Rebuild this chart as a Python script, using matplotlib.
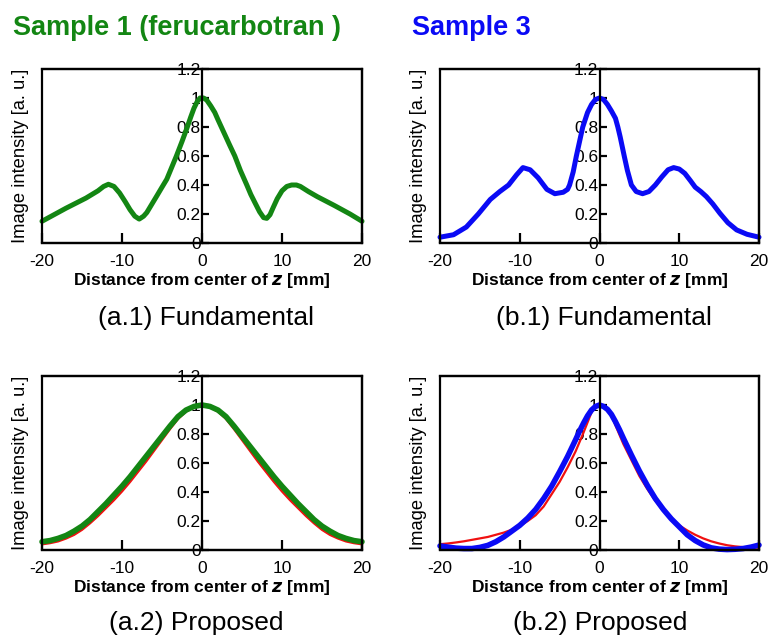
import matplotlib
matplotlib.use('Agg')
import matplotlib.pyplot as plt
from matplotlib.patches import Rectangle

plt.rcParams['font.family'] = ['Liberation Sans', 'DejaVu Sans']
plt.rcParams['mathtext.fontset'] = 'custom'
plt.rcParams['mathtext.bf'] = 'Liberation Sans:bold:italic'

# ---------------- data ----------------
# (a.1) Sample 1, fundamental
a1_z = [-20, -17, -14.5, -13, -12.3, -11.7, -11, -10.3, -9.6, -9, -8.4, -7.85,
        -7.3, -6.9, -6.3, -5.7, -5, -4.4, -3.8, -3.2, -2.5, -1.9, -1.4, -1,
        -0.6, -0.25, 0.2, 0.6, 1.1, 1.6, 2.0, 2.5, 3.0, 3.5, 4.1, 4.8, 5.6,
        6.1, 6.6, 7.2, 7.7, 8.1, 8.5, 8.9, 9.4, 10.0, 10.6, 11.2, 11.8, 12.3,
        13.3, 14.4, 16.5, 18.5, 20]
a1_fundamental = [0.15, 0.24, 0.31, 0.36, 0.39, 0.405, 0.39, 0.345, 0.285, 0.23,
                  0.185, 0.165, 0.185, 0.21, 0.265, 0.32, 0.385, 0.44, 0.52,
                  0.60, 0.70, 0.79, 0.87, 0.93, 0.975, 1.0, 1.0, 0.985, 0.945,
                  0.90, 0.85, 0.79, 0.73, 0.67, 0.60, 0.50, 0.40, 0.335, 0.28,
                  0.215, 0.175, 0.17, 0.195, 0.245, 0.305, 0.36, 0.39, 0.40,
                  0.40, 0.39, 0.355, 0.32, 0.26, 0.20, 0.15]

# (b.1) Sample 3, fundamental
b1_z = [-20, -18.3, -16.7, -15.2, -13.7, -12.5, -11.4, -10.4, -9.6, -8.7, -7.7,
        -6.6, -5.6, -4.55, -4, -3.75, -3.3, -2.9, -2.5, -2.1, -1.5, -1, -0.5,
        0, 0.5, 1, 1.5, 2.0, 2.3, 2.6, 3.1, 3.5, 4.0, 4.6, 5.4, 6.2, 7.0, 7.8,
        8.6, 9.3, 10.0, 10.7, 11.4, 12.0, 12.7, 13.4, 14.2, 15.1, 16.1, 17.2,
        18.5, 20]
b1_fundamental = [0.04, 0.057, 0.11, 0.20, 0.30, 0.355, 0.40, 0.47, 0.52, 0.505,
                  0.45, 0.37, 0.34, 0.35, 0.37, 0.40, 0.49, 0.60, 0.70, 0.80,
                  0.90, 0.955, 0.99, 1.0, 0.99, 0.955, 0.91, 0.86, 0.80, 0.73,
                  0.60, 0.50, 0.40, 0.355, 0.34, 0.355, 0.40, 0.455, 0.505,
                  0.52, 0.51, 0.48, 0.43, 0.385, 0.355, 0.32, 0.27, 0.205,
                  0.14, 0.09, 0.06, 0.04]

# (a.2) Sample 1, proposed (green) and reference (red)
a2_z = list(range(-20, 21))
a2_proposed = [0.057, 0.065, 0.08, 0.10, 0.13, 0.165, 0.21, 0.265, 0.32, 0.38,
               0.44, 0.505, 0.575, 0.645, 0.715, 0.785, 0.855, 0.92, 0.965, 0.99,
               1.0,
               0.99, 0.965, 0.92, 0.855, 0.785, 0.715, 0.645, 0.575, 0.505, 0.44,
               0.38, 0.32, 0.265, 0.21, 0.165, 0.13, 0.10, 0.08, 0.065, 0.057]
a2_reference = [0.04, 0.048, 0.06, 0.08, 0.105, 0.14, 0.185, 0.235, 0.29, 0.345,
                0.405, 0.47, 0.54, 0.61, 0.685, 0.76, 0.835, 0.905, 0.955, 0.985,
                1.0,
                0.985, 0.955, 0.905, 0.835, 0.76, 0.685, 0.61, 0.54, 0.47, 0.405,
                0.345, 0.29, 0.235, 0.185, 0.14, 0.105, 0.08, 0.06, 0.048, 0.04]

# (b.2) Sample 3, proposed (blue) and reference (red)
b2_z = [-20, -19, -18, -17, -16, -15, -14, -13, -12, -11, -10, -9, -8, -7, -6,
        -5, -4, -3, -2.5, -2, -1.5, -1, -0.5, 0, 0.5, 1, 1.5, 2, 2.5, 3, 4, 5,
        6, 7, 8, 9, 10, 11, 12, 13, 14, 15, 16, 17, 18, 19, 20]
b2_proposed = [0.028, 0.02, 0.013, 0.01, 0.01, 0.018, 0.032, 0.057, 0.09, 0.13,
               0.17, 0.22, 0.28, 0.355, 0.44, 0.54, 0.645, 0.76, 0.82, 0.875,
               0.925, 0.965, 0.99, 1.0, 0.99, 0.97, 0.935, 0.885, 0.83, 0.77,
               0.655, 0.545, 0.445, 0.355, 0.28, 0.215, 0.16, 0.105, 0.065,
               0.035, 0.015, 0.006, 0.003, 0.005, 0.01, 0.02, 0.034]
b2_reference = [0.04, 0.045, 0.052, 0.06, 0.07, 0.08, 0.09, 0.105, 0.12, 0.14,
                0.165, 0.20, 0.24, 0.30, 0.385, 0.47, 0.57, 0.68, 0.745, 0.81,
                0.88, 0.95, 0.985, 1.0, 0.995, 0.975, 0.93, 0.86, 0.795, 0.73,
                0.62, 0.51, 0.42, 0.34, 0.27, 0.215, 0.17, 0.135, 0.105, 0.08,
                0.06, 0.045, 0.033, 0.025, 0.02, 0.018, 0.016]

x_ticks = [-20, -10, 0, 10, 20]
x_tick_labels = ['-20', '-10', '0', '10', '20']
y_ticks = [0, 0.2, 0.4, 0.6, 0.8, 1.0, 1.2]
y_tick_labels = ['0', '0.2', '0.4', '0.6', '0.8', '1', '1.2']

sample_titles = ['Sample 1 (ferucarbotran )', 'Sample 3']
captions = ['(a.1) Fundamental', '(b.1) Fundamental', '(a.2) Proposed', '(b.2) Proposed']

GREEN = '#138613'
BLUE = '#0a0af5'
RED = '#f01010'

# ---------------- figure ----------------
W, H = 771, 639
fig = plt.figure(figsize=(W / 100, H / 100), dpi=100)


def px_axes(left, top, right, bottom):
    return fig.add_axes([left / W, 1 - bottom / H, (right - left) / W, (bottom - top) / H])


def style(ax):
    ax.set_xlim(-20, 20)
    ax.set_ylim(0, 1.2)
    for s in ['top', 'right', 'bottom']:
        ax.spines[s].set_linewidth(1.6)
    ax.spines['left'].set_position(('data', 0))
    ax.spines['left'].set_linewidth(1.6)
    ax.add_patch(Rectangle((0, 0), 1, 1, transform=ax.transAxes, fill=False,
                           lw=1.6, ec='black', clip_on=False, zorder=5))
    ax.set_xticks(x_ticks)
    ax.set_xticklabels(x_tick_labels)
    ax.set_yticks(y_ticks)
    ax.set_yticklabels(y_tick_labels)
    ax.tick_params(axis='x', direction='in', length=7, width=1.6, labelsize=12.5, pad=8)
    ax.tick_params(axis='y', direction='in', length=5, width=1.6, labelsize=12.5, pad=1)
    ax.set_xlabel(r'Distance from center of $\boldsymbol{z}$ [mm]', fontsize=12.5,
                  fontweight='bold')
    ax.xaxis.label.set_va('baseline')
    ax.xaxis.set_label_coords(0.5, -42 / 174)
    ax.set_ylabel('Image intensity [a. u.]', fontsize=13.2)
    ax.yaxis.set_label_coords(-0.04, 0.5)


ax_a1 = px_axes(42, 69, 362, 243)
ax_b1 = px_axes(440, 69, 759, 243)
ax_a2 = px_axes(42, 376, 362, 550)
ax_b2 = px_axes(440, 376, 759, 550)

for ax in [ax_a1, ax_b1, ax_a2, ax_b2]:
    style(ax)

kw = dict(solid_capstyle='round', solid_joinstyle='round', clip_on=False)
ax_a1.plot(a1_z, a1_fundamental, color=GREEN, lw=3.6, **kw)
ax_b1.plot(b1_z, b1_fundamental, color=BLUE, lw=3.6, **kw)
ax_a2.plot(a2_z, a2_reference, color=RED, lw=1.8, **kw)
ax_a2.plot(a2_z, a2_proposed, color=GREEN, lw=4.0, **kw)
ax_b2.plot(b2_z, b2_reference, color=RED, lw=1.6, **kw)
ax_b2.plot(b2_z, b2_proposed, color=BLUE, lw=4.0, **kw)

fig.text(13 / W, 1 - 35 / H, sample_titles[0], color=GREEN, fontsize=19.5,
         fontweight='bold', ha='left', va='baseline')
fig.text(412 / W, 1 - 35 / H, sample_titles[1], color=BLUE, fontsize=19.5,
         fontweight='bold', ha='left', va='baseline')

fig.text(206 / W, 1 - 325 / H, captions[0], fontsize=19, ha='center', va='baseline')
fig.text(604 / W, 1 - 325 / H, captions[1], fontsize=19, ha='center', va='baseline')
fig.text(196 / W, 1 - 630 / H, captions[2], fontsize=19, ha='center', va='baseline')
fig.text(600 / W, 1 - 630 / H, captions[3], fontsize=19, ha='center', va='baseline')

fig.savefig('out.png', dpi=100)
